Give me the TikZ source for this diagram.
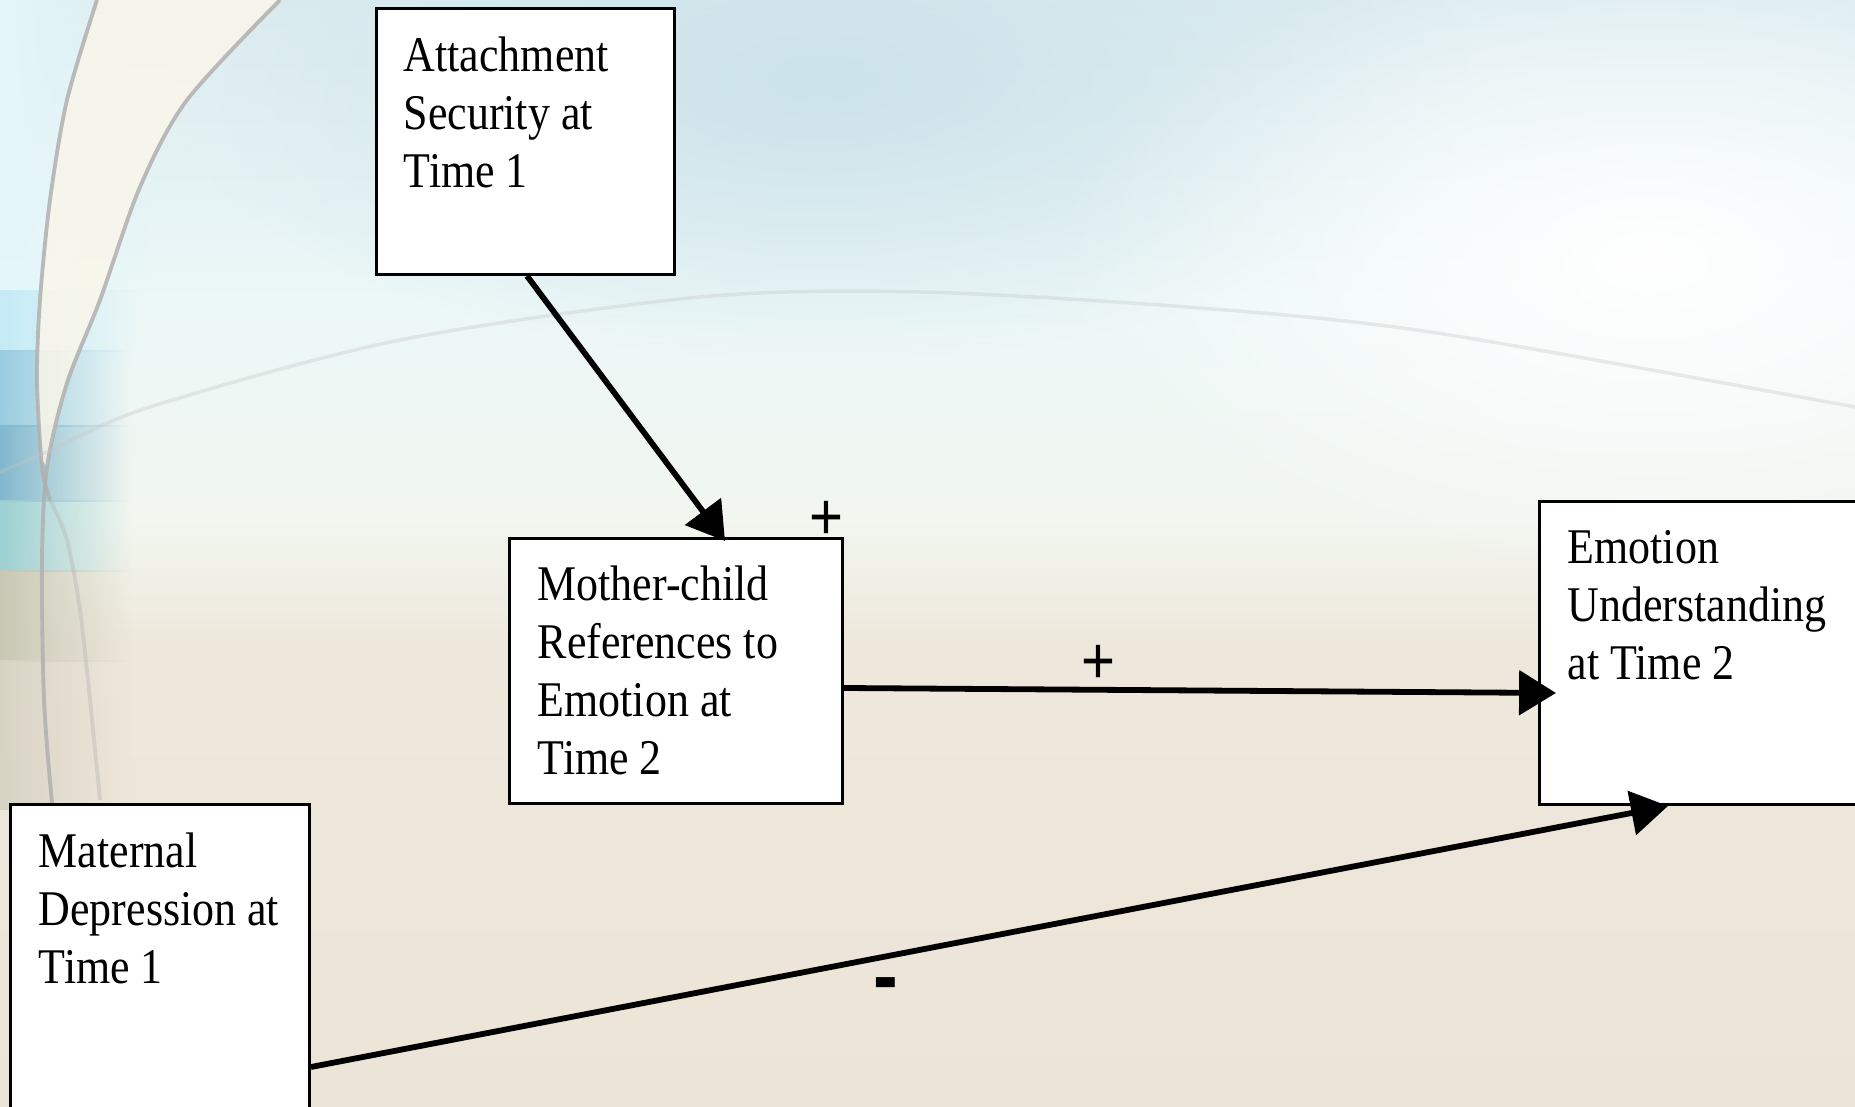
\documentclass[tikz,border=0pt]{standalone}
\usepackage{fontspec}
\setmainfont{Liberation Serif}[FakeStretch=0.88]
\newfontfamily\signfont{Liberation Sans}[FakeStretch=0.88]
\usetikzlibrary{arrows.meta,calc,fadings}
\tikzfading[name=fadeR, left color=transparent!0, right color=transparent!100]
\tikzfading[name=softblob, inner color=transparent!0, outer color=transparent!100]
\definecolor{bgA}{HTML}{DCECF0}
\definecolor{bgB}{HTML}{ECF7F7}
\definecolor{bgC}{HTML}{F1F6EF}
\definecolor{bgD}{HTML}{EEE8DC}
\definecolor{bgE}{HTML}{ECE4D7}
\definecolor{blobblue}{HTML}{CCE3EA}
\definecolor{stA}{HTML}{E4F6FA}
\definecolor{stB}{HTML}{C4EBF6}
\definecolor{stC}{HTML}{98CCE0}
\definecolor{stD}{HTML}{82B8CE}
\definecolor{stE}{HTML}{9DD0D2}
\definecolor{stF}{HTML}{C9C8B5}
\definecolor{stG}{HTML}{D8D4C4}
\definecolor{arcgray}{HTML}{B0B0B0}
\definecolor{creamband}{HTML}{FAF6EA}
\begin{document}
\begin{tikzpicture}[x=0.01cm,y=-0.01cm,
  box/.style={draw=black, line width=0.8pt, fill=white, inner sep=0pt, anchor=north west},
  boxtext/.style={anchor=north west, inner sep=0pt, align=left, font=\fontsize{14.2pt}{16.5pt}\selectfont},
  conn/.style={line width=1.65pt, -{Triangle[length=10.5pt,width=12.5pt]}},
  sign/.style={font=\signfont\fontsize{18.8pt}{20pt}\selectfont, inner sep=0pt, anchor=base},
  arc/.style={draw=arcgray, line width=1.1pt, opacity=0.85}]
\useasboundingbox (0,0) rectangle (1855,1107);
\clip (0,0) rectangle (1855,1107);
% ---------- background ----------
\fill[top color=bgA, bottom color=bgB] (0,0) rectangle (1855,302);
\fill[top color=bgB, bottom color=bgC] (0,300) rectangle (1855,522);
\fill[top color=bgC, bottom color=bgD] (0,520) rectangle (1855,642);
\fill[top color=bgD, bottom color=bgE] (0,640) rectangle (1855,1107);
\fill[blobblue, path fading=softblob] (820,80) ellipse [x radius=6.5cm, y radius=2.8cm];
\fill[white, path fading=softblob] (1650,260) ellipse [x radius=6cm, y radius=3.2cm];
% left strip
\fill[stA, path fading=fadeR] (0,0) rectangle (150,292);
\fill[stB, path fading=fadeR] (0,290) rectangle (140,352);
\fill[stC, path fading=fadeR] (0,350) rectangle (130,427);
\fill[stD, path fading=fadeR] (0,425) rectangle (130,502);
\fill[stE, path fading=fadeR] (0,500) rectangle (130,572);
\fill[stF, path fading=fadeR] (0,570) rectangle (130,662);
\fill[stG, path fading=fadeR] (0,660) rectangle (130,810);
% cream band between arcs
\fill[creamband, opacity=0.85] plot[smooth] coordinates {(97,0) (67,100) (50,200) (40,300) (37,380) (42,460)}
  -- plot[smooth] coordinates {(47,467) (67,383) (100,300) (140,187) (187,100) (280,0)} -- cycle;
% arcs
\draw[arc] plot[smooth] coordinates {(97,0) (67,100) (50,200) (40,300) (37,380) (42,467) (50,500)};
\draw[arc, opacity=0.35] plot[smooth] coordinates {(50,500) (67,540) (80,610) (90,700) (100,800)};
\draw[arc] plot[smooth] coordinates {(280,0) (187,100) (140,187) (100,300) (67,383) (47,467) (42,560) (44,700) (52,803)};
% faint highlight arc
\draw[gray!45, line width=1pt, opacity=0.35] plot[smooth] coordinates {(0,472) (47,452) (150,407) (400,340) (700,297) (921,292) (1200,308) (1437,333) (1855,407)};
% ---------- boxes ----------
\node[box, minimum width=2.98cm, minimum height=2.66cm] (att) at (375,7) {};
\node[box, minimum width=3.33cm, minimum height=2.65cm] (moc) at (508,537) {};
\node[box, minimum width=3.30cm, minimum height=3.03cm] (emo) at (1538,500) {};
\node[box, minimum width=2.99cm, minimum height=3.20cm] (mat) at (9,803) {};
\node[boxtext] (attT) at ($(att.north west)+(28,23.4)$) {\strut Attachment\\Security at\\Time 1};
\node[boxtext] (mocT) at ($(moc.north west)+(29,22.4)$) {\strut Mother-child\\References to\\Emotion at\\Time 2};
\node[boxtext] (emoT) at ($(emo.north west)+(29,22.4)$) {\strut Emotion\\Understanding\\at Time 2};
\node[boxtext] (matT) at ($(mat.north west)+(29,23.4)$) {\strut Maternal\\Depression at\\Time 1};
% ---------- connectors ----------
\coordinate (a1) at ($(att.south west)+(152,0)$);
\coordinate (a2) at ($(moc.north west)+(217,4)$);
\draw[conn] (a1) -- (a2);
\coordinate (b1) at ($(moc.north east)+(0,151)$);
\coordinate (b2) at ($(emo.north west)+(18,193)$);
\draw[conn] (b1) -- (b2);
\coordinate (c1) at ($(mat.north east)+(0,264)$);
\coordinate (c2) at ($(emo.south west)+(130,0)$);
\draw[conn] (c1) -- (c2);
% ---------- signs ----------
\node[sign] (p1) at (826,540) {+};
\node[sign] (p2) at (1098,684) {+};
\node[sign, font=\signfont\bfseries\fontsize{24pt}{26pt}\selectfont] (m1) at (886,1004) {-};
\end{tikzpicture}
\end{document}
